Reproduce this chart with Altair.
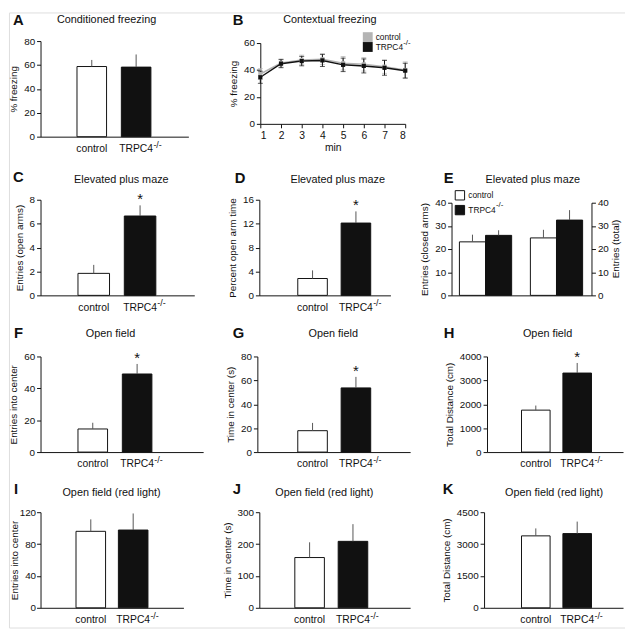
import altair as alt
import pandas as pd

FONT = "Liberation Sans"
INK = "#111111"
ERRC = "#555555"
GRAY = "#b4b4b4"
GROUPS = ["control", "TRPC4"]

# ---------------- values ----------------
A_MEAN, A_ERR, A_TICKS = [58.7, 58.2], [5.5, 10.6], [0, 20, 40, 60, 80]

B_MIN = [1, 2, 3, 4, 5, 6, 7, 8]
B_CONTROL = [37.0, 45.2, 47.5, 48.0, 45.0, 44.2, 42.5, 40.0]
B_CONTROL_ERR = [4.0, 3.0, 3.5, 4.0, 5.0, 5.0, 5.0, 6.0]
B_TRPC4 = [34.6, 44.7, 46.6, 47.1, 43.8, 43.0, 41.6, 39.5]
B_TRPC4_ERR = [4.5, 3.0, 3.5, 4.5, 5.0, 5.2, 5.5, 5.5]
B_TICKS = [0, 20, 40, 60]

C_MEAN, C_ERR, C_TICKS = [1.84, 6.64], [0.71, 0.89], [0, 2, 4, 6, 8]
D_MEAN, D_ERR, D_TICKS = [2.82, 12.1], [1.36, 1.95], [0, 4, 8, 12, 16]

E_MEASURES = ["closed", "total"]
E_CLOSED_MEAN, E_CLOSED_ERR = [23.1, 25.9], [3.1, 2.2]
E_TOTAL_MEAN, E_TOTAL_ERR = [24.8, 32.5], [3.5, 4.3]
E_TICKS = [0, 10, 20, 30, 40]

F_MEAN, F_ERR, F_TICKS = [14.5, 49.0], [3.9, 6.3], [0, 20, 40, 60]
G_MEAN, G_ERR, G_TICKS = [17.9, 53.7], [6.5, 9.2], [0, 20, 40, 60, 80]
H_MEAN, H_ERR, H_TICKS = [1755, 3306], [191, 422], [0, 1000, 2000, 3000, 4000]
I_MEAN, I_ERR, I_TICKS = [96.0, 97.6], [15.0, 20.8], [0, 40, 80, 120]
J_MEAN, J_ERR, J_TICKS = [157.7, 208.5], [47.8, 54.0], [0, 100, 200, 300]
K_MEAN, K_ERR, K_TICKS = [3386, 3493], [351, 564], [0, 1500, 3000, 4500]

# ---------------- canvas ----------------
W_TOT, H_TOT = 625, 624
ORIGIN = 8          # page margin: page coordinate = chart coordinate + 8


def c(v):
    return v - ORIGIN


def y_axis(title, ticks, x_at, orient="left", tp=5, lp=2):
    off = -c(x_at) if orient == "left" else c(x_at) - W_TOT
    return alt.Axis(title=title, values=ticks, format="d", orient=orient, offset=off,
                    tickSize=4, labelPadding=lp, titlePadding=tp, labelFontSize=10,
                    titleFontSize=10, labelFont=FONT, titleFont=FONT,
                    titleFontWeight="normal", domainColor=INK, tickColor=INK,
                    labelColor=INK, titleColor=INK, grid=False, labelOverlap=False)


def x_cat_axis(y_at, labels=True):
    return alt.Axis(title=None, ticks=False, labels=labels, labelAngle=0, labelPadding=7,
                    labelFontSize=10.5, labelFont=FONT, labelColor=INK, orient="bottom",
                    offset=c(y_at) - H_TOT, domainColor=INK, grid=False)


def band_scale(domain, a, b, l1, l2, w):
    a, b, l1, l2 = c(a), c(b), c(l1), c(l2)
    s = l2 - l1
    pi = 1 - w / s
    left = (b - a) - s * (2 - pi)
    return alt.Scale(domain=domain, range=[a, b], paddingInner=pi,
                     paddingOuter=left / (2 * s), align=(l1 - a) / left, round=False)


def text_layer(txt, x, y, size, weight="normal", align="left", baseline="alphabetic",
               angle=0):
    return alt.Chart(pd.DataFrame({"t": [txt]})).mark_text(
        align=align, baseline=baseline, fontSize=size, fontWeight=weight, angle=angle,
        font=FONT, color=INK).encode(text="t:N", x=alt.value(c(x)), y=alt.value(c(y)))


def header(letter, lx, ly, title, tx, ty):
    return [text_layer(letter, lx, ly, 15, weight="bold"),
            text_layer(title, tx, ty, 11, align="center", baseline="middle")]


def bar_panel(ytitle, means, errs, ticks, xg, yg, star, tp=5, lp=2):
    x0, x1, l1, l2, w = xg
    top, bottom = yg
    xs = band_scale(GROUPS, x0, x1, l1, l2, w)
    ys = alt.Scale(domain=[ticks[0], ticks[-1]], range=[c(bottom), c(top)], nice=False)
    df = pd.DataFrame({"group": GROUPS, "mean": means,
                       "top": [m + e for m, e in zip(means, errs)]})
    x = alt.X("group:N", scale=xs, sort=GROUPS, axis=x_cat_axis(bottom))
    yax = y_axis(ytitle, ticks, x0, tp=tp, lp=lp)
    base = alt.Chart(df)
    bars = base.mark_bar(stroke=INK, strokeWidth=1).encode(
        x=x, y=alt.Y("mean:Q", scale=ys, axis=yax),
        fill=alt.condition(alt.datum.group == "control", alt.value("white"), alt.value(INK)))
    err = base.mark_rule(color=ERRC, strokeWidth=1).encode(
        x=x, y=alt.Y("mean:Q", scale=ys, axis=yax), y2="top:Q")
    sup = base.transform_filter(alt.datum.group == "TRPC4").mark_text(
        text="-/-", align="left", baseline="alphabetic", fontSize=9, dx=17.5,
        font=FONT, color=INK).encode(x=x, y=alt.value(c(bottom) + 11))
    layers = [bars, err, sup]
    if star:
        layers.append(base.transform_filter(alt.datum.group == "TRPC4").mark_text(
            text="*", fontSize=15, baseline="alphabetic", dy=-1, font=FONT,
            color=INK).encode(x=x, y=alt.Y("top:Q", scale=ys, axis=yax)))
    return alt.layer(*layers)


# ---------------- bar panels (page pixel frames) ----------------
pA = bar_panel("% freezing", A_MEAN, A_ERR, A_TICKS, (40, 190, 77, 122, 30), (37, 134), False)
pC = bar_panel("Entries (open arms)", C_MEAN, C_ERR, C_TICKS, (40, 196, 78, 125, 32),
               (198, 295), True)
pD = bar_panel("Percent open arm time", D_MEAN, D_ERR, D_TICKS, (262, 395, 301, 345, 30),
               (198, 295), True)
pF = bar_panel("Entries into center", F_MEAN, F_ERR, F_TICKS, (40, 205, 78, 123, 30),
               (357, 454), True)
pG = bar_panel("Time in center (s)", G_MEAN, G_ERR, G_TICKS, (260, 415, 301, 345, 30),
               (357, 454), True)
pH = bar_panel("Total Distance (cm)", H_MEAN, H_ERR, H_TICKS, (493, 631, 528, 570, 29),
               (357, 454), True)
pI = bar_panel("Entries into center", I_MEAN, I_ERR, I_TICKS, (40, 185, 76, 119, 30),
               (515, 612), False, tp=0, lp=1)
pJ = bar_panel("Time in center (s)", J_MEAN, J_ERR, J_TICKS, (262, 415, 298, 342, 30),
               (515, 612), False)
pK = bar_panel("Total Distance (cm)", K_MEAN, K_ERR, K_TICKS, (490, 631, 528, 570, 29),
               (515, 612), False)

# ---------------- panel B ----------------
bdf = pd.DataFrame({
    "min": B_MIN * 2,
    "group": ["control"] * len(B_MIN) + ["TRPC4"] * len(B_MIN),
    "value": B_CONTROL + B_TRPC4,
    "err": B_CONTROL_ERR + B_TRPC4_ERR,
})
bdf["lo"] = bdf["value"] - bdf["err"]
bdf["hi"] = bdf["value"] + bdf["err"]
B_X0, B_X1, B_TOP, B_BOT = 263, 410, 39, 121
bxs = alt.Scale(domain=[1, 8], range=[c(B_X0), c(B_X1)], nice=False, zero=False)
bys = alt.Scale(domain=[0, 60], range=[c(B_BOT), c(B_TOP)], nice=False)
bxax = alt.Axis(title="min", values=B_MIN, format="d", tickSize=4, labelPadding=3,
                titlePadding=2, labelFontSize=10.5, titleFontSize=10.5, labelFont=FONT,
                titleFont=FONT, titleFontWeight="normal", domainColor=INK, tickColor=INK,
                labelColor=INK, titleColor=INK, grid=False, orient="bottom",
                offset=c(B_BOT) - H_TOT)
byax = y_axis("% freezing", B_TICKS, B_X0)
bx = alt.X("min:Q", scale=bxs, axis=bxax)
by = alt.Y("value:Q", scale=bys, axis=byax)
bbase = alt.Chart(bdf)
blayers = []
for g, col in [("control", GRAY), ("TRPC4", INK)]:
    sub = bbase.transform_filter(alt.datum.group == g)
    blayers.append(sub.mark_rule(color=col, strokeWidth=1).encode(
        x=bx, y=alt.Y("lo:Q", scale=bys, axis=byax), y2="hi:Q"))
    blayers.append(sub.mark_tick(color=col, orient="horizontal", size=5, thickness=1).encode(
        x=bx, y=alt.Y("lo:Q", scale=bys, axis=byax)))
    blayers.append(sub.mark_tick(color=col, orient="horizontal", size=5, thickness=1).encode(
        x=bx, y=alt.Y("hi:Q", scale=bys, axis=byax)))
    blayers.append(sub.mark_line(color=col, strokeWidth=1.5).encode(x=bx, y=by))
blayers.append(bbase.mark_point(shape="square", filled=True, size=18, opacity=1).encode(
    x=bx, y=by,
    color=alt.Color("group:N", scale=alt.Scale(domain=GROUPS, range=[GRAY, INK]),
                    legend=alt.Legend(title=None, orient="none", legendX=c(367),
                                      legendY=c(28), direction="vertical",
                                      symbolType="square", symbolSize=100,
                                      symbolStrokeWidth=0, labelFontSize=8.5,
                                      labelFont=FONT, labelColor=INK, labelOffset=3,
                                      rowPadding=0, padding=0))))
pB = alt.layer(*blayers)

# ---------------- panel E ----------------
edf = pd.DataFrame({
    "measure": [E_MEASURES[0]] * 2 + [E_MEASURES[1]] * 2,
    "group": GROUPS * 2,
    "mean": E_CLOSED_MEAN + E_TOTAL_MEAN,
    "err": E_CLOSED_ERR + E_TOTAL_ERR,
})
edf["top"] = edf["mean"] + edf["err"]
E_X0, E_X1, E_TOP, E_BOT = 457, 599, 201, 295
exs = band_scale(E_MEASURES, E_X0, E_X1, 465, 537, 53)
ex = alt.X("measure:N", scale=exs, sort=E_MEASURES, axis=x_cat_axis(E_BOT, labels=False))
exo = alt.XOffset("group:N", sort=GROUPS,
                  scale=alt.Scale(domain=GROUPS, paddingInner=0, paddingOuter=0))
eys = alt.Scale(domain=[0, 40], range=[c(E_BOT), c(E_TOP)], nice=False)
ebase = alt.Chart(edf)
ebars = ebase.mark_bar(stroke=INK, strokeWidth=1).encode(
    x=ex, xOffset=exo,
    y=alt.Y("mean:Q", scale=eys, axis=y_axis("Entries (closed arms)", E_TICKS, E_X0)),
    fill=alt.Fill("group:N", scale=alt.Scale(domain=GROUPS, range=["white", INK]),
                  legend=alt.Legend(title=None, orient="none", legendX=c(460),
                                    legendY=c(188), direction="vertical",
                                    symbolType="square", symbolSize=90,
                                    symbolStrokeColor=INK, symbolStrokeWidth=1,
                                    labelFontSize=8.5, labelFont=FONT, labelColor=INK,
                                    labelOffset=3, rowPadding=0, padding=0)))
eerr = ebase.mark_rule(color=ERRC, strokeWidth=1).encode(
    x=ex, xOffset=exo,
    y=alt.Y("mean:Q", scale=eys,
            axis=y_axis(None, E_TICKS, E_X1, orient="right", tp=1)),
    y2="top:Q")
pE = alt.layer(ebars, eerr).resolve_scale(y="independent")

# ---------------- letters, titles, superscripts ----------------
texts = []
texts += header("A", 12, 21, "Conditioned freezing", 107, 16)
texts += header("B", 235, 21, "Contextual freezing", 333.5, 16)
texts += header("C", 12, 180, "Elevated plus maze", 122, 178)
texts += header("D", 237, 181, "Elevated plus maze", 341.5, 178)
texts += header("E", 449, 181, "Elevated plus maze", 539.5, 178)
texts += header("F", 13, 338, "Open field", 111, 334)
texts += header("G", 235, 338, "Open field", 337, 334)
texts += header("H", 449, 338, "Open field", 554.5, 334)
texts += header("I", 13, 497, "Open field (red light)", 112, 496)
texts += header("J", 235, 497, "Open field (red light)", 328, 496)
texts += header("K", 448, 497, "Open field (red light)", 561, 496)
texts.append(text_layer("-/-", 408, 41, 8))
texts.append(text_layer("-/-", 502, 205, 8))
texts.append(text_layer("Entries (total)", 624, 248, 10, align="center",
                        baseline="middle", angle=270))

chart = alt.layer(
    pA, pB, pC, pD, pE, pF, pG, pH, pI, pJ, pK, *texts
).resolve_scale(
    x="independent", y="independent", color="independent", fill="independent"
).properties(
    width=W_TOT, height=H_TOT, padding={"left": 0, "top": 0, "right": 0, "bottom": 0}
).configure_view(stroke=None).configure(font=FONT)

chart.save("out.html", embed_options={"renderer": "svg", "actions": False})
